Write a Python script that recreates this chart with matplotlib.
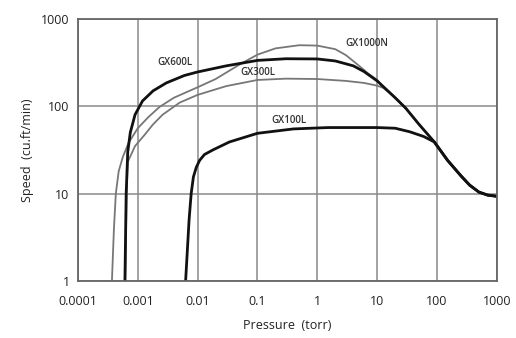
import matplotlib
matplotlib.use("Agg")
import matplotlib.pyplot as plt
from matplotlib.ticker import FixedLocator, FixedFormatter, NullLocator

plt.rcParams['font.family'] = ['Open Sans', 'DejaVu Sans']

# common tail after the curves merge
tail_x = [20, 30, 50, 90, 150, 250, 350, 500, 700, 1000]
tail_y = [125, 95, 62, 39, 24, 16, 12.5, 10.4, 9.6, 9.3]

gx600_x = [0.00061, 0.00064, 0.00068, 0.00075, 0.0009, 0.0012, 0.0018, 0.003,
           0.006, 0.01, 0.03, 0.1, 0.3, 1, 2, 4, 6, 10] + tail_x
gx600_y = [1, 10, 30, 50, 80, 115, 150, 185, 225, 247, 290, 335, 350, 348,
           330, 290, 250, 195] + tail_y

gx1000_x = [0.00037, 0.0004, 0.00043, 0.00048, 0.00056, 0.0007, 0.001, 0.0015,
            0.0023, 0.004, 0.01, 0.02, 0.05, 0.1, 0.2, 0.5, 1, 2, 3, 5,
            7, 10, 13] + tail_x
gx1000_y = [1, 4, 10, 18, 26, 38, 56, 75, 98, 125, 165, 205, 300, 390, 460,
            500, 495, 450, 385, 290, 238, 200, 160] + tail_y

gx300_x = [0.00062, 0.00065, 0.00068, 0.0009, 0.0013, 0.0018, 0.0026, 0.005,
           0.01, 0.03, 0.1, 0.3, 1, 3, 6, 10, 14] + tail_x
gx300_y = [1, 10, 23, 35, 47, 62, 80, 110, 135, 170, 200, 207, 205, 195, 185,
           172, 158] + tail_y

gx100_x = [0.0063, 0.0072, 0.0078, 0.0085, 0.0095, 0.0108, 0.013, 0.018,
           0.034, 0.1, 0.4, 1.5, 10, 20, 35, 60, 90] + tail_x[4:]
gx100_y = [1, 5, 10, 15.5, 20, 24, 28, 31.6, 39, 49, 55, 57, 57, 56, 51, 45,
           39] + tail_y[4:]

x_ticks = [0.0001, 0.001, 0.01, 0.1, 1, 10, 100, 1000]
x_labels = ['0.0001', '0.001', '0.01', '0.1', '1', '10', '100', '1000']
y_ticks = [1, 10, 100, 1000]
y_labels = ['1', '10', '100', '1000']

fig = plt.figure(figsize=(5.16, 3.38), dpi=100)
ax = fig.add_axes([0.151, 0.169, 0.812, 0.775])
ax.set_xscale('log')
ax.set_yscale('log')
ax.set_xlim(0.0001, 1000)
ax.set_ylim(1, 1000)

ax.xaxis.set_major_locator(FixedLocator(x_ticks))
ax.xaxis.set_major_formatter(FixedFormatter(x_labels))
ax.yaxis.set_major_locator(FixedLocator(y_ticks))
ax.yaxis.set_major_formatter(FixedFormatter(y_labels))
ax.xaxis.set_minor_locator(NullLocator())
ax.yaxis.set_minor_locator(NullLocator())
ax.tick_params(length=0, labelsize=9, colors='#222222')
ax.tick_params(axis='x', pad=10)
ax.tick_params(axis='y', pad=6)

ax.grid(True, color='#8a8a8a', lw=1.1)
ax.set_axisbelow(True)
for s in ax.spines.values():
    s.set_color('#666666')
    s.set_linewidth(1.3)

gray = '#777777'
ax.plot(gx1000_x, gx1000_y, color=gray, lw=1.3)
ax.plot(gx300_x, gx300_y, color=gray, lw=1.3)
ax.plot(gx600_x, gx600_y, color='#111111', lw=2.0)
ax.plot(gx100_x, gx100_y, color='#111111', lw=2.0)

lab = dict(fontsize=7, color='#333333', ha='center', va='center',
           fontweight='semibold')
ax.text(0.0042, 320, 'GX600L', **lab)
ax.text(0.1, 245, 'GX300L', **lab)
ax.text(6.6, 520, 'GX1000N', **lab)
ax.text(0.33, 68, 'GX100L', **lab)

ax.set_xlabel('Pressure  (torr)', fontsize=9, color='#222222', labelpad=8)
ax.set_ylabel('Speed  (cu.ft/min)', fontsize=9, color='#222222', labelpad=5)

fig.savefig('out.png', dpi=100)
